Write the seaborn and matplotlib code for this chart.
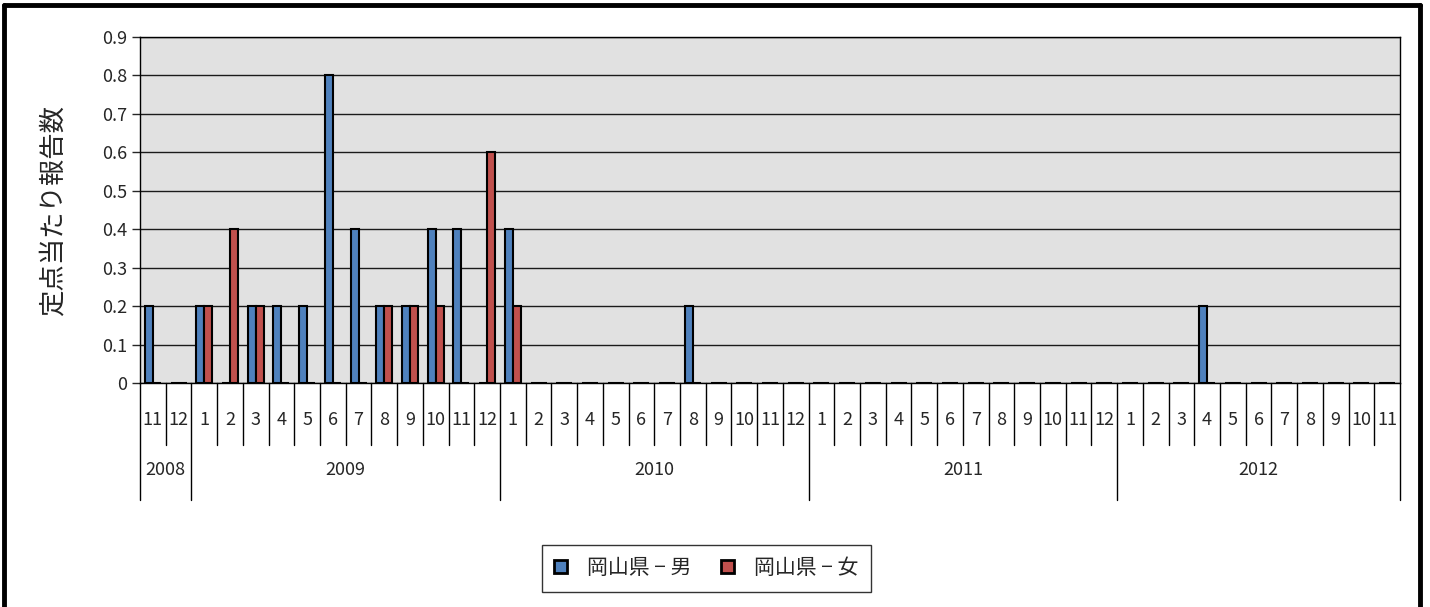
import pandas as pd
import matplotlib.pyplot as plt
import seaborn as sns
from matplotlib.lines import Line2D

# Data: monthly reports per sentinel site, Okayama, 2008-11 .. 2012-11
years = ['2008', '2009', '2010', '2011', '2012']
months_2008 = [11, 12]
months_full = list(range(1, 13))
months_2012 = list(range(1, 12))
month_labels = months_2008 + months_full * 3 + months_2012
year_counts = [len(months_2008), 12, 12, 12, len(months_2012)]

male = [0.2, 0,
        0.2, 0, 0.2, 0.2, 0.2, 0.8, 0.4, 0.2, 0.2, 0.4, 0.4, 0,
        0.4, 0, 0, 0, 0, 0, 0, 0.2, 0, 0, 0, 0,
        0, 0, 0, 0, 0, 0, 0, 0, 0, 0, 0, 0,
        0, 0, 0, 0.2, 0, 0, 0, 0, 0, 0, 0]
female = [0, 0,
          0.2, 0.4, 0.2, 0, 0, 0, 0, 0.2, 0.2, 0.2, 0, 0.6,
          0.2, 0, 0, 0, 0, 0, 0, 0, 0, 0, 0, 0,
          0, 0, 0, 0, 0, 0, 0, 0, 0, 0, 0, 0,
          0, 0, 0, 0, 0, 0, 0, 0, 0, 0, 0]
series_names = ['岡山県 − 男', '岡山県 − 女']
colors = ['#4F81BD', '#C0504D']

# build long-form table
periods = []
for y, n in zip(years, year_counts):
    periods += [y] * n
keys = [f'{y}-{m}' for y, m in zip(periods, month_labels)]
df = pd.DataFrame({
    'period': keys * 2,
    'value': male + female,
    'series': [series_names[0]] * len(keys) + [series_names[1]] * len(keys),
})

sns.set_style('white')
plt.rcParams['font.family'] = ['Noto Sans CJK JP', 'DejaVu Sans']

fig = plt.figure(figsize=(14.3, 6.07), dpi=100)
ax = fig.add_axes([0.0979, 0.369, 0.8811, 0.570])

sns.barplot(data=df, x='period', y='value', hue='series', order=keys,
            palette=colors, width=0.62, edgecolor='black', linewidth=1.5,
            saturation=1, ax=ax)

ax.set_facecolor('#e1e1e1')
ax.set_axisbelow(True)
ax.set_ylim(0, 0.9)
ax.set_xlim(-0.5, len(keys) - 0.5)
yt = [i / 10 for i in range(10)]
ax.set_yticks(yt)
ax.set_yticklabels(['0'] + [f'{v:.1f}' for v in yt[1:]], fontsize=13)
ax.yaxis.grid(True, color='#1a1a1a', linewidth=1)
ax.tick_params(axis='y', direction='out', length=6, width=1, left=True, pad=3)
ax.set_xticks([])
ax.set_xlabel('')
ax.set_ylabel('定点当たり報告数', fontsize=19, labelpad=26)
for side in ['left', 'top', 'bottom', 'right']:
    ax.spines[side].set_visible(True)
    ax.spines[side].set_color('black')
    ax.spines[side].set_linewidth(1)

# two-level category axis
tr = ax.get_xaxis_transform()
for i, m in enumerate(month_labels):
    ax.text(i, -0.107, str(m), transform=tr, ha='center', va='center', fontsize=13)
starts = [0]
for n in year_counts:
    starts.append(starts[-1] + n)
for i in range(len(keys) + 1):
    low = -0.338 if i in starts else -0.179
    ax.plot([i - 0.5, i - 0.5], [0, low], transform=tr, color='black',
            linewidth=1, clip_on=False)
for y, s, n in zip(years, starts, year_counts):
    ax.text(s + n / 2 - 0.5, -0.251, y, transform=tr, ha='center', va='center', fontsize=13)

sns.move_legend(ax, loc='center', bbox_to_anchor=(0.494, 0.064),
                bbox_transform=fig.transFigure, ncol=2, title=None,
                frameon=True, fancybox=False, edgecolor='black', fontsize=15,
                handlelength=0.6, handleheight=0.6, handletextpad=1.0,
                columnspacing=1.4, borderpad=0.6, shadow=False)
leg = ax.get_legend()
leg.get_frame().set_linewidth(1)
for h in leg.legend_handles:
    h.set_edgecolor('black')
    h.set_linewidth(2)

# outer frame of the chart area
fig.add_artist(Line2D([0.0031, 0.0031], [0, 0.991], color='black', linewidth=3.5))
fig.add_artist(Line2D([0.0031, 0.9927], [0.991, 0.991], color='black', linewidth=3.5))
fig.add_artist(Line2D([0.9927, 0.9927], [0, 0.991], color='black', linewidth=3.5))

fig.savefig('out.png', dpi=100)
